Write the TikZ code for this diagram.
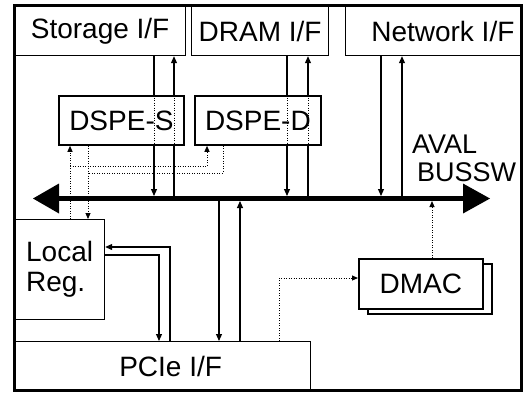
\documentclass[tikz,border=0pt]{standalone}
\usepackage{fontspec}
\setmainfont{Liberation Sans}
\usetikzlibrary{arrows.meta,shadows}
\begin{document}
\begin{tikzpicture}[x=1pt,y=-1pt,
  lbl/.style={font=\fontsize{28}{28}\selectfont},
  ifbox/.style={draw,fill=white,line width=1.2pt,inner sep=0pt,lbl,anchor=north west},
  dbox/.style={draw,fill=white,line width=1.8pt,inner sep=0pt,lbl,anchor=north west},
  arr/.style={line width=1.1pt,-{Triangle[length=7pt,width=6pt]}},
  dotl/.style={line width=1pt,dash pattern=on 1pt off 1.5pt},
  dotarr/.style={dotl,-{Triangle[length=6pt,width=5pt]}}
]
\fill[white] (0,0) rectangle (525,392);
\coordinate (bustop) at (0,196);
\coordinate (busbot) at (0,201);
\coordinate (busL) at (33,198.5);
\coordinate (busR) at (490,198.5);

\node[ifbox, minimum width=171pt, minimum height=49pt] (stor) at (14,6) {Storage I/F};
\node[ifbox, minimum width=137pt, minimum height=49pt] (dram) at (191,6) {DRAM I/F};
\node[ifbox, minimum width=176.5pt, minimum height=49pt] (net) at (345,6) {\hspace*{18pt}Network I/F};
\node[ifbox, minimum width=90pt, minimum height=100pt, align=left, font=\fontsize{28}{30}\selectfont] (local) at (14,219) {Local\\Reg.};
\node[ifbox, minimum width=296pt, minimum height=49pt] (pcie) at (14,341) {\hspace*{16pt}PCIe I/F};

% interface <-> bus
\draw[arr] (154,0 |- stor.south) -- (154,0 |- bustop);
\draw[arr] (174,0 |- bustop) -- (174,0 |- stor.south);
\draw[arr] (287,0 |- dram.south) -- (287,0 |- bustop);
\draw[arr] (308,0 |- bustop) -- (308,0 |- dram.south);
\draw[arr] (381,0 |- net.south) -- (381,0 |- bustop);
\draw[arr] (402,0 |- bustop) -- (402,0 |- net.south);

% DSPE boxes
\node[dbox, minimum width=125pt, minimum height=49pt] (dspeS) at (58,95) {DSPE-S};
\node[dbox, minimum width=126pt, minimum height=49pt] (dspeD) at (194,95) {DSPE-D};
\draw[dotl] (154,0 |- dspeS.north) -- (154,0 |- dspeS.south);
\draw[dotl] (174,0 |- dspeS.north) -- (174,0 |- dspeS.south);
\draw[dotl] (287,0 |- dspeD.north) -- (287,0 |- dspeD.south);
\draw[dotl] (308,0 |- dspeD.north) -- (308,0 |- dspeD.south);

% Local Reg <-> DSPE
\draw[dotl] (70,0 |- local.north) -- (70,166) coordinate (j1);
\draw[dotarr] (j1) -- (70,0 |- dspeS.south);
\draw[dotarr] (j1) -| (207,0 |- dspeD.south);
\draw[dotl] (223,0 |- dspeD.south) |- (88,173);
\draw[dotarr] (88,0 |- dspeS.south) -- (88,0 |- local.north);

% Local Reg <-> PCIe
\draw[arr] (170,0 |- pcie.north) |- (local.east |- 0,247);
\draw[arr] (local.east |- 0,255) -| (159,0 |- pcie.north);

% bus <-> PCIe
\draw[arr] (219,0 |- busbot) -- (219,0 |- pcie.north);
\draw[arr] (240,0 |- pcie.north) -- (240,0 |- busbot);

% DMAC
\node[dbox, minimum width=124pt, minimum height=50pt,
  copy shadow={shadow xshift=9pt, shadow yshift=-5pt, fill=white, draw=black, line width=1.8pt}] (dmac) at (358,258) {DMAC};
\draw[dotarr] (279,0 |- pcie.north) |- (dmac.west |- 0,278);
\draw[dotarr] (432,0 |- dmac.north) -- (432,0 |- busbot);

% bus
\draw[line width=5pt, {Triangle[length=26pt,width=30pt,line width=0pt]}-{Triangle[length=27pt,width=30pt,line width=0pt]}] (busL) -- (busR);
\node[font=\fontsize{27}{28}\selectfont, anchor=north west, inner sep=0pt, align=left] (aval) at (412,135) {AVAL\\\hspace*{5pt}BUSSW};

% outer frame
\draw[line width=3pt] (14.5,5.8) rectangle (521.5,390);
\end{tikzpicture}
\end{document}
